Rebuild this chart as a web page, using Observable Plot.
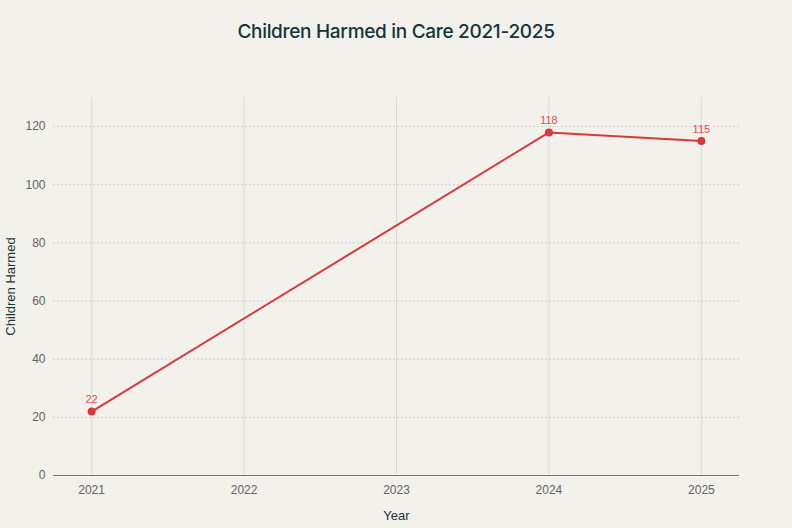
<!DOCTYPE html>
<html><head><meta charset="utf-8">
<script src="https://cdn.jsdelivr.net/npm/d3@7"></script>
<script src="https://cdn.jsdelivr.net/npm/@observablehq/plot@0.6"></script>
<style>
html,body{margin:0;padding:0;background:#f3f1ec;width:792px;height:528px;overflow:hidden;font-family:"Liberation Sans",Arial,sans-serif;}
#title{height:60px;line-height:64px;text-align:center;font-family:Inter,"Liberation Sans",sans-serif;font-size:19px;color:#13343b;font-weight:500;letter-spacing:-0.3px;}
</style></head><body>
<div id="title">Children Harmed in Care 2021-2025</div>
<div id="chart"></div>
<script>
const years = [2021, 2024, 2025];
const harmed = [22, 118, 115];
const xTicks = [2021, 2022, 2023, 2024, 2025];
const yTicks = [0, 20, 40, 60, 80, 100, 120];
const data = years.map((y, i) => ({year: y, value: harmed[i]}));

const chart = Plot.plot({
  width: 792, height: 468,
  marginTop: 37, marginBottom: 53, marginLeft: 53, marginRight: 53,
  style: {background: "transparent", fontFamily: "Liberation Sans, Arial, sans-serif", fontSize: "12px", color: "#5f6368"},
  x: {domain: [2020.75, 2025.25], ticks: xTicks, tickFormat: d => String(d), tickSize: 0, tickPadding: 10, label: "Year", labelAnchor: "center", labelOffset: 44, labelArrow: "none"},
  y: {domain: [0, 130], ticks: yTicks, tickSize: 0, tickPadding: 8, label: "Children Harmed", labelAnchor: "center", labelOffset: 48, labelArrow: "none"},
  marks: [
    Plot.ruleX(xTicks, {stroke: "#dcdad5", strokeWidth: 1}),
    Plot.ruleY(yTicks.filter(d => d > 0), {stroke: "#cfcdc8", strokeWidth: 1, strokeDasharray: "2,2"}),
    Plot.ruleY([0], {stroke: "#777", strokeWidth: 1.2}),
    Plot.line(data, {x: "year", y: "value", stroke: "#d9393b", strokeWidth: 2}),
    Plot.dot(data, {x: "year", y: "value", fill: "#d9393b", r: 4}),
    Plot.text(data, {x: "year", y: "value", text: d => String(d.value), dy: -12, fill: "#e0504f", fontSize: 11})
  ]
});
chart.querySelectorAll('[aria-label="x-axis label"] text, [aria-label="y-axis label"] text').forEach(t => {t.setAttribute("fill", "#13343b"); t.style.fontSize = "13px";});
document.getElementById("chart").appendChild(chart);
</script>
</body></html>
